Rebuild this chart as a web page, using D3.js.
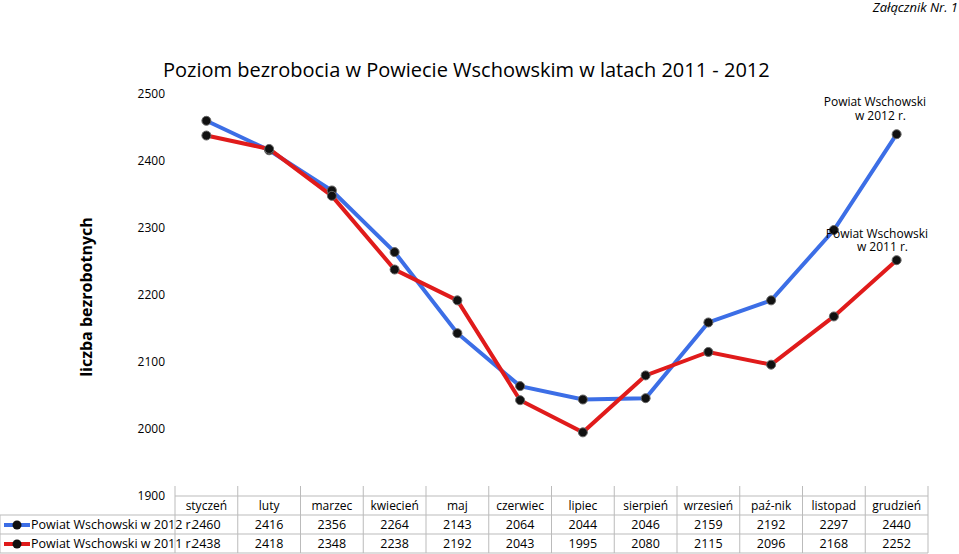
<!DOCTYPE html><html><head><meta charset="utf-8"><script src="https://cdn.jsdelivr.net/npm/d3@7"></script>
<style>body{margin:0;background:#fff}text{font-family:"Open Sans","Liberation Sans",Arial,sans-serif}</style></head><body><svg id="c" width="959" height="554"></svg><script>
const months=["styczeń","luty","marzec","kwiecień","maj","czerwiec","lipiec","sierpień","wrzesień","paź-nik","listopad","grudzień"];
const s2012=[2460,2416,2356,2264,2143,2064,2044,2046,2159,2192,2297,2440];
const s2011=[2438,2418,2348,2238,2192,2043,1995,2080,2115,2096,2168,2252];
const yTicks=[1900,2000,2100,2200,2300,2400,2500];
const names=["Powiat Wschowski w 2012 r.","Powiat Wschowski w 2011 r."];
const colors=["#3c6ee6","#e01b1b"];
const svg=d3.select("#c");
const L=175,R=928,T=94,B=496;
const x=d3.scaleBand().domain(months).range([L,R]);
const y=d3.scaleLinear().domain([1900,2500]).range([B,T]);
svg.append("text").attr("x",958).attr("y",12).attr("text-anchor","end").attr("font-size",13).attr("font-style","italic").attr("font-family","Liberation Sans").text("Załącznik Nr. 1");
svg.append("text").attr("x",163).attr("y",77).attr("font-size",20).attr("font-family","Liberation Sans").text("Poziom  bezrobocia w Powiecie Wschowskim w latach 2011 - 2012");
svg.append("text").attr("transform","translate(92,297) rotate(-90)").attr("text-anchor","middle").attr("font-size",16).attr("font-weight","bold").text("liczba bezrobotnych");
yTicks.forEach(t=>svg.append("text").attr("x",165).attr("y",y(t)+4).attr("text-anchor","end").attr("font-size",12).attr("font-family","Liberation Sans").text(t));
const g=svg.append("g").attr("stroke","#bbb").attr("fill","none");
const rows=[B,515,534,553];
rows.forEach((r,i)=>g.append("line").attr("x1",i==0?L:0).attr("x2",R).attr("y1",r).attr("y2",r));
g.append("line").attr("x1",0).attr("x2",0).attr("y1",515).attr("y2",553);
months.forEach((m,i)=>g.append("line").attr("x1",x(m)).attr("x2",x(m)).attr("y1",B-10).attr("y2",553));
g.append("line").attr("x1",R).attr("x2",R).attr("y1",B-10).attr("y2",553);
months.forEach(m=>svg.append("text").attr("x",x(m)+x.bandwidth()/2).attr("y",510).attr("text-anchor","middle").attr("font-size",12).text(m));
[s2012,s2011].forEach((s,k)=>{
  const ry=rows[k+1]+14;
  s.forEach((v,i)=>svg.append("text").attr("x",x(months[i])+x.bandwidth()/2).attr("y",ry).attr("text-anchor","middle").attr("font-size",12.5).text(v));
  svg.append("line").attr("x1",4).attr("x2",30).attr("y1",ry-4).attr("y2",ry-4).attr("stroke",colors[k]).attr("stroke-width",4);
  svg.append("circle").attr("cx",17).attr("cy",ry-4).attr("r",4.5).attr("fill","#111");
  svg.append("text").attr("x",31).attr("y",ry).attr("font-size",12.5).text(names[k]);
});
const line=d3.line().x((d,i)=>x(months[i])+x.bandwidth()/2).y(d=>y(d));
[s2012,s2011].forEach((s,k)=>{
  svg.append("path").attr("d",line(s)).attr("fill","none").attr("stroke",colors[k]).attr("stroke-width",4);
});
[s2012,s2011].forEach(s=>s.forEach((v,i)=>svg.append("circle").attr("cx",x(months[i])+x.bandwidth()/2).attr("cy",y(v)).attr("r",4.5).attr("fill","#111").attr("stroke","#666").attr("stroke-width",1)));
[[names[0],926,106,120],[names[1],928,238,251]].forEach(([n,xx,y1,y2])=>{
  const p=n.split(" w ");
  svg.append("text").attr("x",xx).attr("y",y1).attr("text-anchor","end").attr("font-size",12).attr("font-family","Liberation Sans").text(p[0]);
  svg.append("text").attr("x",xx-20).attr("y",y2).attr("text-anchor","end").attr("font-size",12).attr("font-family","Liberation Sans").text("w "+p[1]);
});
</script></body></html>
